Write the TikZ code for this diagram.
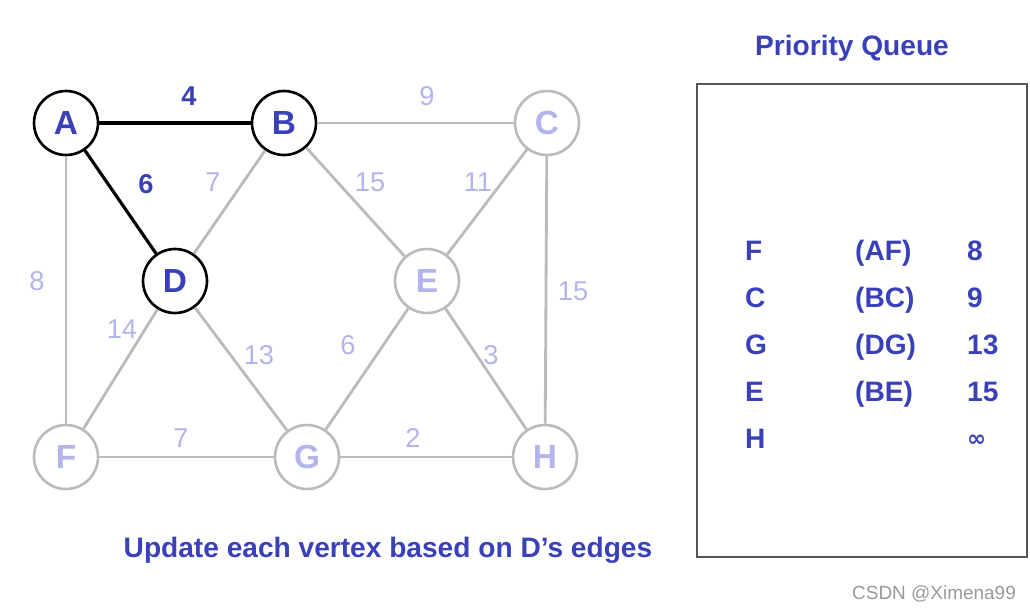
\documentclass[tikz,border=0pt]{standalone}
\usepackage{fontspec}
\setmainfont{Liberation Sans}
\newfontfamily\symfont{DejaVu Sans}
\usepackage{xcolor}
\definecolor{pqblue}{HTML}{3A40B8}
\definecolor{pqfade}{HTML}{B4B4EC}
\definecolor{pqgray}{HTML}{BBBBBB}
\definecolor{pqbox}{HTML}{555555}
\usetikzlibrary{positioning}

\begin{document}
\begin{tikzpicture}[x=0.02cm,y=-0.02cm,
  vtx/.style={circle,draw=pqgray,line width=1.5pt,fill=white,minimum size=1.28cm,inner sep=0pt,
    font=\fontsize{19}{19}\selectfont\bfseries,text=pqfade},
  done/.style={vtx,draw=black,text=pqblue},
  edge/.style={pqgray,line width=1.6pt},
  tree/.style={black,line width=1.8pt},
  wt/.style={font=\fontsize{15.5}{15.5}\selectfont,text=pqfade},
  wtdone/.style={wt,font=\fontsize{15.5}{15.5}\selectfont\bfseries,text=pqblue},
  pq/.style={font=\fontsize{16}{16}\selectfont\bfseries,text=pqblue,anchor=base west}]
\useasboundingbox (0,0) rectangle (1030,612);
% vertices
\node[done] (A) at (66,123) {A};
\node[done] (B) at (284,123) {B};
\node[vtx]  (C) at (547,123) {C};
\node[done] (D) at (175,281) {D};
\node[vtx]  (E) at (427,281) {E};
\node[vtx]  (F) at (66,457) {F};
\node[vtx]  (G) at (307,457) {G};
\node[vtx]  (H) at (545,457) {H};
% edges not yet in the tree
\foreach \u/\v in {B/C,B/D,B/E,C/E,A/F,C/H,D/F,D/G,E/G,E/H,F/G,G/H}
  \draw[edge] (\u) -- (\v);
% tree edges
\draw[tree] (A) -- (B);
\draw[tree] (A) -- (D);
% weights
\node[wtdone] (wAB) at (189,96) {4};
\node[wtdone] (wAD) at (146,184) {6};
\foreach \n/\x/\y/\w in {BC/427/96/9,BD/213/182/7,BE/370/182/15,CE/478/182/11,
    AF/37/281/8,CH/573/291/15,DF/122/329/14,DG/259/355/13,EG/348/345/6,
    EH/491/355/3,FG/181/438/7,GH/413/438/2}
  \node[wt] (w\n) at (\x,\y) {\w};
% priority queue
\node[font=\fontsize{16}{16}\selectfont\bfseries,text=pqblue] (pqtitle) at (852,48) {Priority Queue};
\draw[pqbox,line width=1.2pt] (697,84) rectangle (1027,557);
\foreach \i/\v/\e/\d in {1/F/(AF)/8,2/C/(BC)/9,3/G/(DG)/13,4/E/(BE)/15}{
  \node[pq] (q\i v) at (739,260+47*\i-47) {\v};
  \node[pq] (q\i e) at (849,260+47*\i-47) {\e};
  \node[pq] (q\i d) at (961,260+47*\i-47) {\d};}
\node[pq] (q5v) at (739,448) {H};
\node[pq,font=\fontsize{13}{13}\selectfont\symfont\bfseries] (q5d) at (961,446) {∞};
% caption
\node[font=\fontsize{16}{16}\selectfont\bfseries,text=pqblue] (note) at (388,550)
  {Update each vertex based on D’s edges};
\node[font=\fontsize{10.8}{10.8}\selectfont,text=gray!80] (mark) at (934,594) {CSDN @Ximena99};
\end{tikzpicture}
\end{document}
